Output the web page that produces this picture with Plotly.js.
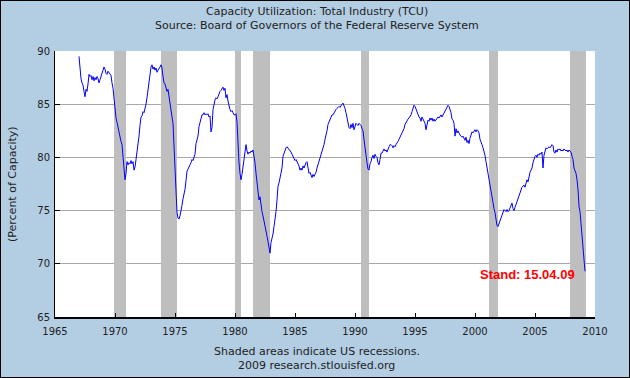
<!DOCTYPE html>
<html>
<head>
<meta charset="utf-8">
<script src="https://cdn.plot.ly/plotly-3.0.1.min.js"></script>
<style>
  html, body { margin: 0; padding: 0; background: #b3cde3; }
  #frame { width: 630px; height: 378px; box-sizing: border-box; border: 1px solid #000; background: #b3cde3; overflow: hidden; }
  #chart { width: 628px; height: 376px; }
</style>
</head>
<body>
<div id="frame"><div id="chart"></div></div>
<script>
// Capacity Utilization: Total Industry (TCU), monthly, percent of capacity
const startYear = 1967; // first observation: January 1967
const cu1967to1969 = [
  89.5, 88.0, 87.4, 87.0, 86.8, 86.2, 85.7, 86.4, 86.2, 86.9, 87.8, 87.6,
  87.7, 87.3, 87.6, 87.2, 87.5, 87.3, 87.6, 87.4, 87.0, 87.3, 87.7, 87.9,
  88.2, 88.5, 88.3, 87.9, 87.8, 88.1, 88.0, 87.9, 87.7, 87.0, 86.5, 85.6
];
const cu1970s = [
  84.5, 83.7, 83.3, 82.8, 82.5, 82.0, 81.5, 81.2, 80.3, 79.0, 77.9, 78.5,
  79.6, 79.3, 79.5, 79.4, 79.7, 79.4, 79.6, 78.8, 79.1, 79.8, 80.5, 81.0,
  82.0, 83.0, 83.8, 83.9, 84.3, 84.2, 84.5, 85.0, 85.6, 86.4, 87.3, 87.8,
  88.5, 88.7, 88.3, 88.5, 88.2, 88.4, 88.0, 88.2, 88.3, 88.5, 88.7, 88.4,
  87.6, 87.0, 86.9, 86.5, 86.2, 86.4, 85.6, 84.8, 84.5, 83.8, 83.2, 81.0,
  78.5, 75.6, 74.8, 74.3, 74.2, 74.5, 74.9, 75.5, 76.1, 76.5, 77.0, 77.8,
  78.7, 78.9, 79.2, 79.3, 79.5, 79.8, 79.7, 80.0, 80.3, 81.3, 81.6, 82.0,
  82.9, 83.3, 83.8, 84.0, 84.0, 84.2, 84.0, 84.1, 84.0, 84.1, 83.8, 83.9,
  82.4, 82.8, 84.5, 85.2, 85.4, 85.6, 85.5, 85.7, 86.0, 86.2, 86.3, 86.5,
  86.6, 86.3, 86.5, 85.6, 85.9, 85.3, 84.8, 84.5, 84.3, 84.4, 84.2, 84.0
];
const cu1980s = [
  84.0, 84.1, 83.3, 81.0, 79.5, 78.5, 77.9, 78.4, 79.2, 80.2, 81.0, 81.2,
  80.6, 80.3, 80.5, 80.4, 80.6, 80.5, 80.7, 80.2, 79.5, 78.5, 77.6, 76.3,
  76.0, 76.3, 75.4, 74.9, 74.5, 74.1, 73.7, 73.2, 72.6, 72.1, 71.6, 71.0,
  72.0, 72.3, 72.8, 73.5, 74.1, 74.9, 76.0, 77.3, 77.6, 78.1, 78.5, 79.0,
  80.1, 80.4, 80.6, 80.9, 81.0, 80.9, 80.8, 80.7, 80.5, 80.3, 80.1, 80.0,
  79.7, 79.8, 79.6, 79.4, 79.2, 78.8, 79.0, 78.8, 79.2, 79.0, 79.3, 79.5,
  79.6, 79.2, 78.5, 78.6, 78.3, 78.1, 78.4, 78.2, 78.4, 78.6, 79.0, 79.3,
  79.5, 79.8, 80.2, 80.6, 80.9, 81.2, 81.7, 82.0, 82.5, 83.1, 83.3, 83.6,
  83.8, 84.0, 84.0, 84.2, 84.3, 84.5, 84.6, 84.7, 84.8, 84.7, 84.9, 85.0,
  85.1, 84.9, 84.6, 84.2, 83.7, 83.2, 82.8, 82.7, 83.1, 82.8, 83.2, 82.6
];
const cu1990s = [
  83.0, 83.2, 83.1, 83.0, 83.2, 83.1, 83.0, 82.7, 82.5, 81.7, 80.8, 80.2,
  79.5, 78.9, 78.8, 79.4, 79.6, 80.0, 80.2, 79.9, 80.3, 80.1, 80.0, 79.5,
  79.3, 79.8, 80.4, 80.4, 80.6, 80.8, 80.6, 80.7, 80.5, 80.9, 81.0, 81.2,
  81.2, 81.1, 80.9, 81.1, 81.0, 81.2, 81.3, 81.5, 81.7, 81.9, 82.1, 82.4,
  82.6, 82.7, 83.1, 83.3, 83.5, 83.6, 83.7, 83.8, 84.0, 84.3, 84.6, 84.9,
  84.8, 84.5, 84.3, 84.0, 83.8, 83.7, 83.4, 83.8, 83.6, 83.4, 83.2, 82.6,
  83.1, 83.5, 83.4, 83.7, 83.5, 83.7, 83.4, 83.6, 83.4, 83.5, 83.6, 83.8,
  83.7, 83.9, 84.0, 83.8, 84.0, 84.1, 84.3, 84.6, 84.7, 84.9, 84.8, 84.5,
  84.2, 83.6, 83.5, 83.2, 82.0, 82.7, 82.3, 82.5, 82.2, 82.1, 82.0, 81.9,
  82.0, 81.8, 81.6, 81.9, 81.4, 81.6, 81.3, 81.8, 82.2, 82.4, 82.3, 82.5
];
const cu2000s = [
  82.6, 82.4, 82.6, 82.5, 82.3, 81.7, 81.5, 81.2, 80.9, 80.6, 80.2, 79.6,
  79.0, 78.4, 77.8, 77.3, 76.8, 76.3, 75.8, 75.2, 74.8, 74.0, 73.6, 73.5,
  73.8, 74.0, 74.3, 74.5, 74.8, 75.1, 75.0, 74.9, 75.1, 74.9, 75.0, 75.3,
  75.5, 75.7, 75.2, 75.0, 75.3, 75.6, 75.9, 76.1, 76.4, 76.8, 76.9, 77.2,
  77.3, 77.4, 77.2, 77.6, 77.9, 77.7, 78.2, 78.6, 78.8, 79.0, 79.5, 79.9,
  80.1, 80.2, 80.0, 80.3, 80.2, 80.4, 80.3, 80.5, 79.0, 80.2, 80.7, 80.9,
  80.8, 80.9, 81.0, 80.9, 81.0, 81.2, 81.1, 80.5, 80.4, 80.7, 80.5, 80.8,
  80.7, 80.8, 80.6, 80.7, 80.6, 80.8, 80.7, 80.6, 80.7, 80.5, 80.7, 80.6,
  80.5, 80.1, 79.8, 79.0, 78.7, 78.5, 77.9, 77.0, 75.4, 74.9, 73.8, 72.5,
  71.5, 70.5, 69.3
];

// NBER recessions (decimal years)
const recessionStart = [1969.92, 1973.83, 1980.0, 1981.5, 1990.5, 2001.17, 2007.92];
const recessionEnd   = [1970.92, 1975.17, 1980.5, 1982.92, 1991.17, 2001.92, 2009.25];

const xTickVals = [1965, 1970, 1975, 1980, 1985, 1990, 1995, 2000, 2005, 2010];
const yTickVals = [65, 70, 75, 80, 85, 90];

const values = [].concat(cu1967to1969, cu1970s, cu1980s, cu1990s, cu2000s);
const months = values.map((v, i) => startYear + i / 12);

const baseFont = {family: 'DejaVu Sans, Verdana, sans-serif', size: 10, color: '#1e1e1e'};
const textFont = {family: 'DejaVu Sans, Verdana, sans-serif', size: 11, color: '#1e1e1e'};

const trace = {
  x: months, y: values, type: 'scatter', mode: 'lines',
  line: {color: '#0000ff', width: 1}, hoverinfo: 'skip'
};

const shapes = recessionStart.map((s, i) => ({
  type: 'rect', xref: 'x', yref: 'y', x0: s, x1: recessionEnd[i], y0: 65, y1: 90,
  fillcolor: '#bebebe', line: {width: 0}, layer: 'between'
}));

const layout = {
  width: 628, height: 376,
  paper_bgcolor: '#b3cde3', plot_bgcolor: '#ffffff',
  margin: {l: 54, r: 34, t: 50, b: 60, pad: 0},
  showlegend: false,
  font: baseFont,
  xaxis: {
    range: [1965, 2010], tickvals: xTickVals, ticktext: xTickVals.map(String),
    ticks: 'inside', ticklen: 4, tickcolor: '#000', tickwidth: 1,
    showline: true, linecolor: '#000', linewidth: 2, mirror: false,
    showgrid: false, zeroline: false, tickfont: baseFont, ticklabelstandoff: 4
  },
  yaxis: {
    range: [65, 90], tickvals: yTickVals, ticktext: yTickVals.map(String),
    ticks: 'inside', ticklen: 5, tickcolor: '#000', tickwidth: 1,
    showline: true, linecolor: '#000', linewidth: 1, mirror: false,
    showgrid: true, gridcolor: '#a8a8a8', gridwidth: 1, zeroline: false,
    tickfont: baseFont, ticklabelstandoff: 2
  },
  shapes: shapes,
  annotations: [
    {text: 'Capacity Utilization: Total Industry (TCU)', xref: 'paper', yref: 'paper', x: 0.485, y: 1.1485, xanchor: 'center', yanchor: 'middle', showarrow: false, font: textFont},
    {text: 'Source: Board of Governors of the Federal Reserve System', xref: 'paper', yref: 'paper', x: 0.485, y: 1.0977, xanchor: 'center', yanchor: 'middle', showarrow: false, font: textFont},
    {text: 'Shaded areas indicate US recessions.', xref: 'paper', yref: 'paper', x: 0.485, y: -0.1305, xanchor: 'center', yanchor: 'middle', showarrow: false, font: textFont},
    {text: '2009 research.stlouisfed.org', xref: 'paper', yref: 'paper', x: 0.485, y: -0.1823, xanchor: 'center', yanchor: 'middle', showarrow: false, font: textFont},
    {text: '(Percent of Capacity)', xref: 'paper', yref: 'paper', x: -0.0796, y: 0.5, xanchor: 'center', yanchor: 'middle', textangle: -90, showarrow: false, font: textFont},
    {text: '<b>Stand: 15.04.09</b>', xref: 'x', yref: 'y', x: 2004.4, y: 69.0, xanchor: 'center', yanchor: 'middle', showarrow: false, font: {family: 'Liberation Sans, Arial, sans-serif', size: 13, color: '#ff0000'}}
  ]
};

Plotly.newPlot('chart', [trace], layout, {staticPlot: true, displayModeBar: false});
</script>
</body>
</html>
